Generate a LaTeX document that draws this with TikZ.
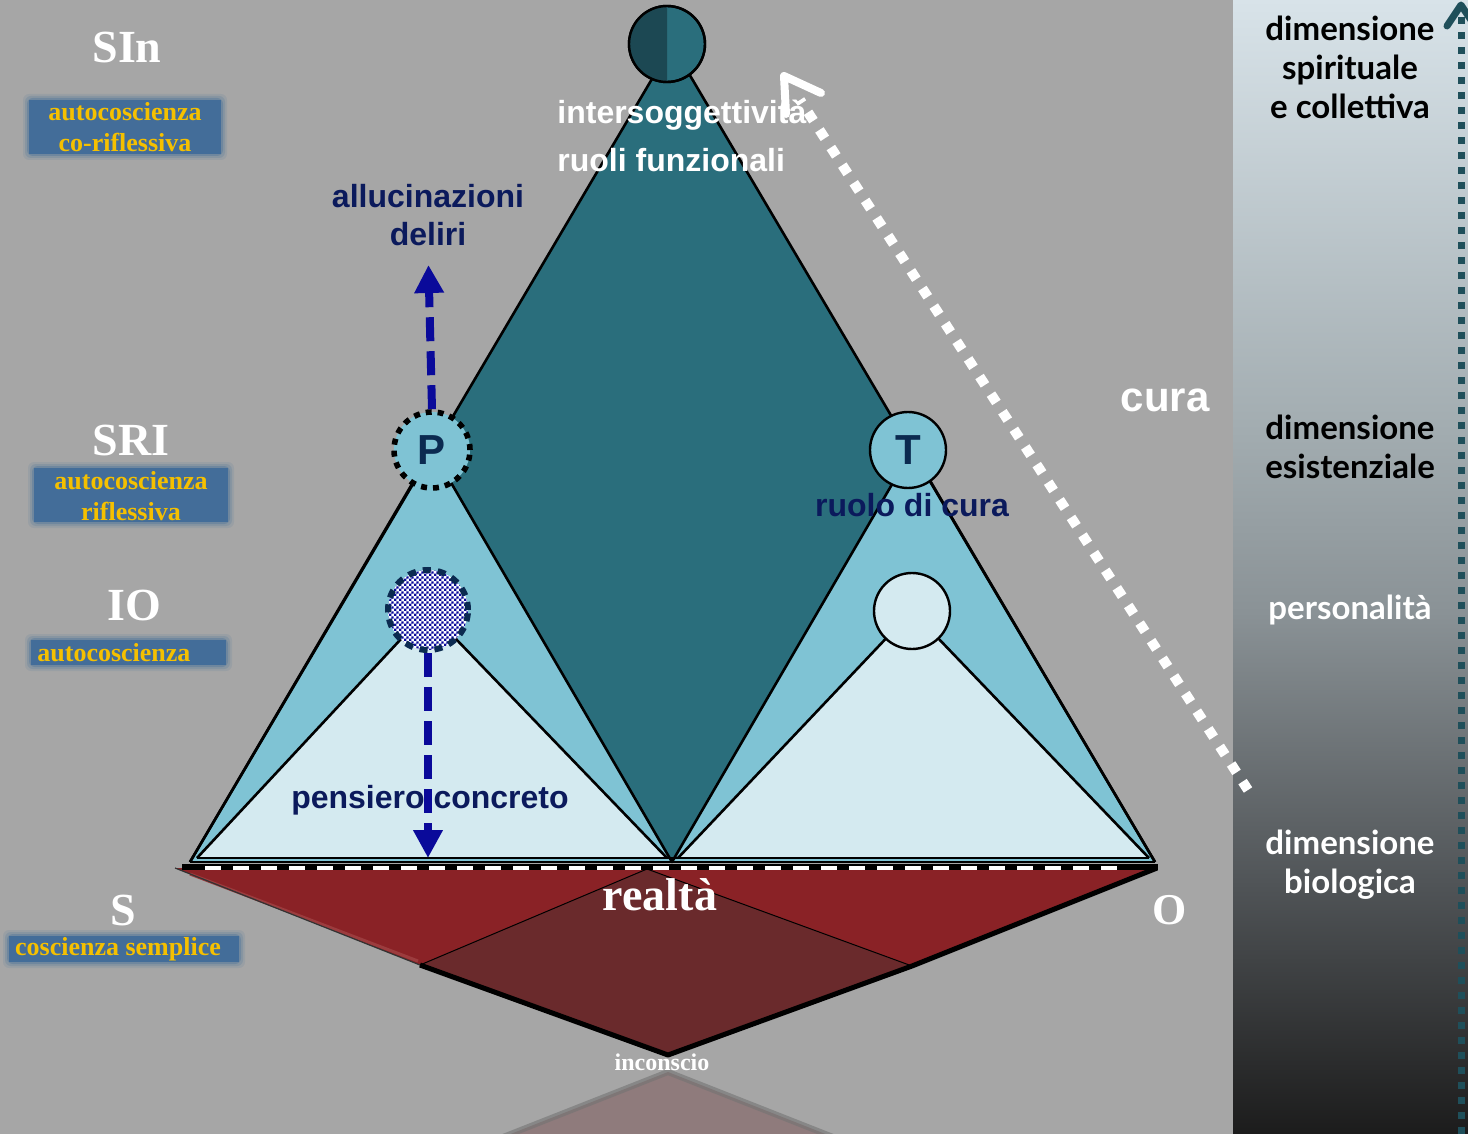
\documentclass[tikz,border=0pt]{standalone}
\usepackage{fontspec}
\setmainfont{Liberation Serif}
\newfontfamily\arialf{Liberation Sans}
\newfontfamily\gillf{Lato}
\usetikzlibrary{arrows.meta,patterns,calc}
\definecolor{bggray}{HTML}{A6A6A6}
\definecolor{tealdark}{HTML}{2A6E7C}
\definecolor{tealdeep}{HTML}{1C4853}
\definecolor{lightblue}{HTML}{7FC3D4}
\definecolor{paleblue}{HTML}{D4EAF0}
\definecolor{boxblue}{HTML}{436D99}
\definecolor{goldtxt}{HTML}{F5C000}
\definecolor{navytext}{HTML}{0B1A5C}
\definecolor{navyarrow}{HTML}{0A0A9A}
\definecolor{letternavy}{HTML}{0B2A50}
\definecolor{redA}{HTML}{8A2226}
\definecolor{redEdge}{HTML}{9C3C3E}
\definecolor{redDark}{HTML}{6A2A2C}
\definecolor{dotteal}{HTML}{1F4F5A}
\definecolor{reflfill}{HTML}{8F7B7C}
\definecolor{pA}{HTML}{1C1C1C}
\definecolor{pB}{HTML}{505457}
\definecolor{pC}{HTML}{8A9296}
\definecolor{pD}{HTML}{A2ACB0}
\definecolor{pE}{HTML}{D8E3E9}
\pgfdeclareverticalshading{panelshade}{100bp}{color(0bp)=(pA); color(25bp)=(pA); color(36bp)=(pB); color(48bp)=(pC); color(56bp)=(pD); color(75bp)=(pE); color(100bp)=(pE)}
\pgfdeclarepatternformonly{finecheck}{\pgfpointorigin}{\pgfqpoint{2.6pt}{2.6pt}}{\pgfqpoint{2.6pt}{2.6pt}}{%
  \pgfpathrectangle{\pgfpointorigin}{\pgfqpoint{1.3pt}{1.3pt}}%
  \pgfpathrectangle{\pgfqpoint{1.3pt}{1.3pt}}{\pgfqpoint{1.3pt}{1.3pt}}%
  \pgfusepath{fill}}
\newcommand\glowbox[4]{%
  \foreach \e/\o in {6/0.12,4/0.2,2/0.35}{\fill[boxblue,opacity=\o,rounded corners=3pt] (#1-\e,#2-\e) rectangle (#3+\e,#4+\e);}
  \fill[boxblue] (#1,#2) rectangle (#3,#4);}
\begin{document}
\begin{tikzpicture}[x=0.5pt,y=-0.5pt,
  edge/.style={line width=1.3pt, line join=round},
  circ/.style={circle, draw=black, line width=1.2pt, minimum size=38pt, inner sep=0pt},
  letter/.style={text=letternavy, font=\arialf\bfseries\fontsize{21}{21}\selectfont},
  serifw/.style={text=white, font=\bfseries\fontsize{23}{23}\selectfont, inner sep=0pt},
  goldlbl/.style={text=goldtxt, font=\bfseries\fontsize{13}{15.5}\selectfont, inner sep=0pt, align=center},
  sansnavy/.style={text=navytext, font=\arialf\bfseries\fontsize{16}{19}\selectfont, inner sep=0pt, align=center},
  sansw/.style={text=white, font=\arialf\bfseries\fontsize{16}{19}\selectfont, inner sep=0pt},
  gill/.style={font=\gillf\bfseries\fontsize{16.5}{19.5}\selectfont, inner sep=0pt, align=center},
  navyarr/.style={navyarrow, line width=4pt, dash pattern=on 12pt off 5pt, -{Triangle[length=14pt,width=14pt]}},
]
\useasboundingbox (0,0) rectangle (1468,1134);
\fill[bggray] (0,0) rectangle (1468,1134);
\shade[shading=panelshade] (1233,0) rectangle (1468,1134);

% reflection under inconscio
\fill[reflfill] (668,1072) -- (470,1150) -- (866,1150) -- cycle;
\draw[black!55, line width=3pt, opacity=0.6] (470,1150) -- (668,1072) -- (866,1150);

% red base shapes
\fill[redA] (175,868) -- (672,868) -- (420,965) -- cycle;
\fill[redA] (636,868) -- (1157,868) -- (912,966) -- cycle;
\fill[redDark] (647,869) -- (912,966) -- (668,1055) -- (420,965) -- cycle;
\draw[black, line width=0.5pt] (420,965) -- (647,869) -- (912,966);
\draw[redEdge, line width=1.5pt] (190,874) -- (418,961);
\draw[black!80, line width=0.6pt] (175,868) -- (420,965);
\draw[black, line width=2.5pt, line join=round] (1157,868) -- (912,966) -- (668,1055) -- (420,965);

% main triangles
\fill[tealdark] (672,45) -- (190,862) -- (1155,862) -- cycle;
\fill[lightblue] (432,450) -- (190,862) -- (672,862) -- cycle;
\fill[lightblue] (912,450) -- (672,862) -- (1155,862) -- cycle;
\fill[paleblue] (428,610) -- (197,858) -- (667,858) -- cycle;
\fill[paleblue] (912,611) -- (678,858) -- (1149,858) -- cycle;
\draw[edge] (190,862) -- (672,45) -- (1155,862);
\draw[edge] (190,862) -- (432,450) -- (672,862) -- (912,450) -- (1155,862);
\draw[edge] (197,858) -- (428,610) -- (667,858);
\draw[edge] (678,858) -- (912,611) -- (1149,858);
\draw[edge] (190,862) -- (1155,862);
\draw[edge] (197,858) -- (1149,858);
\draw[black, line width=2.8pt] (182,867) -- (1158,867);
\draw[white, line width=1.6pt, dash pattern=on 8pt off 6pt] (205,868) -- (1122,868);

% circles
\node[circ, fill=tealdark] (top) at (667,44) {};
\begin{scope}
  \clip (620,0) rectangle (667,100);
  \fill[tealdeep] (top.center) circle[radius=19pt];
\end{scope}
\draw[black, line width=1.2pt] (top.center) circle[radius=19pt];

\node[circ, fill=lightblue, line width=2.8pt, dash pattern=on 3pt off 3pt, letter] (P) at (432,450) {P};
\node[circ, fill=lightblue, letter] (T) at (908,450) {T};
\node[circ, minimum size=40pt, draw=letternavy, line width=3pt, dash pattern=on 4pt off 3.5pt,
      preaction={fill=white}, pattern=finecheck, pattern color=navyarrow] (chk) at (428,610) {};
\node[circ, fill=paleblue] (pale) at (912,611) {};

% navy arrows
\node[sansnavy, anchor=south] (hall) at (428,246) {allucinazioni\\deliri};
\draw[navyarr, shorten >=9.5pt] (P.north) -- (hall.south);
\coordinate (basept) at (428,858);
\draw[navyarr] (chk.south) -- (basept);
\node[sansnavy] (pens) at (430,800) {pensiero concreto};
\node[sansnavy] (ruolo) at (912,505) {ruolo di cura};

% white dotted arrow (cura)
\coordinate (curaA) at (1248,790);
\coordinate (curaB) at (800,100);
\coordinate (curaTip) at (784,76);
\draw[white, line width=5pt, dash pattern=on 5pt off 5.5pt] (curaA) -- (curaB);
\draw[white, line width=4pt, line cap=round, line join=round] ($(curaTip)+(37,17)$) -- (curaTip) -- ($(curaTip)+(2,38)$);
\node[text=white, font=\arialf\bfseries\fontsize{21}{21}\selectfont, inner sep=0pt] (cura) at (1165,400) {cura};

% top texts
\node[sansw, anchor=west] (inter) at (557,115) {intersoggettività};
\node[sansw, anchor=west] (ruoli) at (557,160) {ruoli funzionali};

% right dotted vertical arrow
\coordinate (vB) at (1461,1134);
\coordinate (vT) at (1461,16);
\draw[dotteal, line width=3.5pt, dash pattern=on 3.5pt off 4pt] (vB) -- (vT);
\draw[dotteal, line width=3.5pt, line cap=round, line join=round] (1447,26) -- (1461,5) -- (1475,26);

% right panel texts
\node[gill, text=black] (dimS) at (1350,67) {dimensione\\spirituale\\e collettiva};
\node[gill, text=black] (dimE) at (1350,447) {dimensione\\esistenziale};
\node[gill, text=white] (pers) at (1350,610) {personalità};
\node[gill, text=white] (dimBio) at (1350,865) {dimensione\\biologica};

% left labels
\node[serifw] (SIn) at (127,47) {SIn};
\glowbox{29}{100}{221}{154}
\node[goldlbl] (sinD) at (125,127) {autocoscienza\\co-riflessiva};
\node[serifw] (SRI) at (131,440) {SRI};
\glowbox{34}{468}{228}{522}
\node[goldlbl] (sriD) at (131,496) {autocoscienza\\riflessiva};
\node[serifw] (IO) at (134,605) {IO};
\glowbox{31}{640}{226}{665}
\node[goldlbl, anchor=west] (ioD) at (37,653) {autocoscienza};
\node[serifw] (S) at (123,910) {S};
\glowbox{9}{936}{239}{962}
\node[goldlbl] (sD) at (118,949) {coscienza semplice};

% bottom texts
\node[serifw] (realta) at (660,895) {realtà};
\node[serifw, font=\bfseries\fontsize{22}{22}\selectfont] (O) at (1170,910) {O};
\node[text=white, font=\bfseries\fontsize{12}{12}\selectfont, inner sep=0pt] (incons) at (662,1062) {inconscio};
\end{tikzpicture}
\end{document}
